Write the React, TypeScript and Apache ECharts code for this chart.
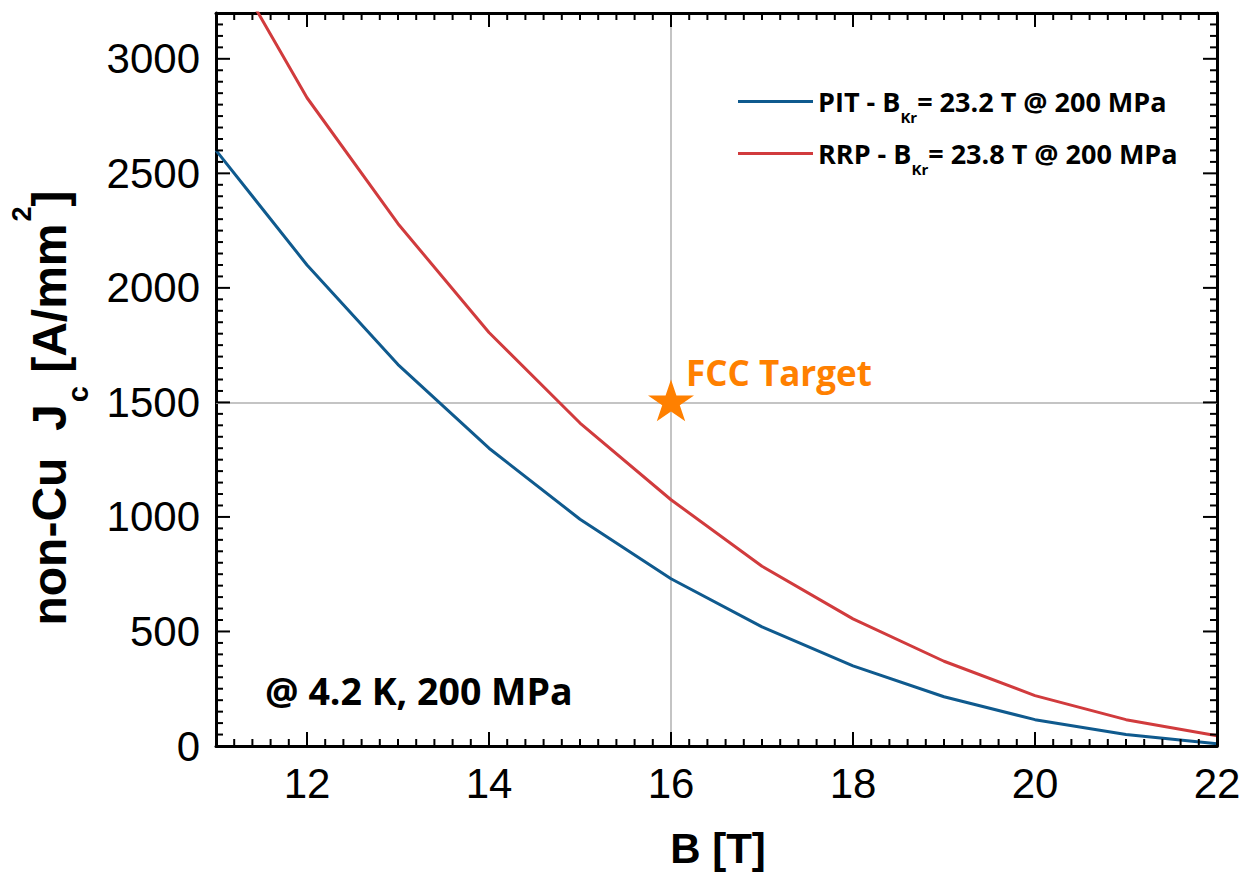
import React, { useEffect, useRef } from "react";
import * as echarts from "echarts";

// Magnetic field B [T]
const fieldB = [11, 12, 13, 14, 15, 16, 17, 18, 19, 20, 21, 22];
// non-Cu critical current density [A/mm²]
const jcPIT = [2600, 2100, 1665, 1300, 990, 730, 520, 350, 215, 115, 50, 10];
const jcRRP = [3520, 2830, 2280, 1805, 1410, 1075, 785, 555, 370, 220, 115, 45];

const seriesNames = ["PIT", "RRP"];
const bKr = ["23.2", "23.8"];
const seriesColors = ["#0f5a8e", "#d13b3d"];

const targetB = 16;
const targetJc = 1500;

const xTickLabels = [12, 14, 16, 18, 20, 22];
const yTickLabels = [0, 500, 1000, 1500, 2000, 2500, 3000];
const X_MINOR_STEP = 0.2;
const Y_MINOR_STEP = 50;

const X_MIN = 11;
const X_MAX = 22;
const Y_MIN = 0;
const Y_MAX = 3200;

const STAR =
  "path://M50 0L61.23 34.55L97.55 34.55L68.17 55.9L79.39 90.45L50 69.1L20.61 90.45L31.83 55.9L2.45 34.55L38.77 34.55Z";

const ARIAL = "'Liberation Sans', Arial, sans-serif";
const SANS = "'Open Sans', 'Noto Sans', sans-serif";

const isTick = (list: number[], v: number) => list.some((t) => Math.abs(t - v) < 1e-6);

function stepsBetween(min: number, max: number, step: number) {
  const out: number[] = [];
  const n = Math.round((max - min) / step);
  for (let k = 0; k <= n; k++) out.push(+(min + k * step).toFixed(6));
  return out;
}

function axisDef(isX: boolean, position: string, withLabels: boolean) {
  const ticks = isX ? xTickLabels : yTickLabels;
  return {
    type: "value",
    position,
    min: isX ? X_MIN : Y_MIN,
    max: isX ? X_MAX : Y_MAX,
    interval: isX ? X_MINOR_STEP : Y_MINOR_STEP,
    axisLine: { show: true, onZero: false, lineStyle: { color: "#000", width: 3 } },
    axisTick: { show: false },
    axisLabel: withLabels
      ? {
          show: true,
          margin: 16,
          color: "#000",
          fontFamily: ARIAL,
          fontSize: 42,
          formatter: (v: number) => (isTick(ticks, v) ? String(Math.round(v)) : ""),
        }
      : { show: false },
    splitLine: { show: false },
  };
}

export default function App() {
  const ref = useRef<HTMLDivElement>(null);

  useEffect(() => {
    if (!ref.current) return;
    const chart = echarts.init(ref.current, null, { renderer: "svg" });

    const lineSeries = [jcPIT, jcRRP].map((vals, i) => ({
      name: seriesNames[i],
      type: "line",
      xAxisIndex: 0,
      yAxisIndex: 0,
      data: fieldB.map((b, k) => [b, vals[k]]),
      symbol: "none",
      clip: true,
      z: 3,
      lineStyle: { color: seriesColors[i], width: 3 },
      itemStyle: { color: seriesColors[i] },
    }));

    const textGraphics: any[] = [
      {
        type: "text",
        left: 265,
        top: 671,
        style: {
          text: "@ 4.2 K, 200 MPa",
          fill: "#000",
          font: `bold 37.5px ${SANS}`,
        },
      },
      {
        // x-axis title
        type: "text",
        x: 718,
        y: 848,
        style: {
          text: "B [T]",
          fill: "#000",
          font: `bold 42px ${ARIAL}`,
          align: "center",
          verticalAlign: "middle",
        },
      },
      {
        // y-axis title, reading bottom to top
        type: "text",
        x: 49,
        y: 408,
        rotation: Math.PI / 2,
        style: {
          text: "{m|non-Cu  J}{sub|c}{m| [A/mm}{sup|2}{m|]}",
          fill: "#000",
          font: `bold 48px ${ARIAL}`,
          align: "center",
          verticalAlign: "middle",
          rich: {
            m: { fontFamily: ARIAL, fontWeight: "bold", fontSize: 48, lineHeight: 52, fill: "#000" },
            sub: {
              fontFamily: ARIAL,
              fontWeight: "bold",
              fontSize: 29,
              lineHeight: 52,
              padding: [58, 0, 0, 2],
              fill: "#000",
            },
            sup: {
              fontFamily: ARIAL,
              fontWeight: "bold",
              fontSize: 27,
              lineHeight: 52,
              padding: [0, 0, 54, 2],
              fill: "#000",
            },
          },
        },
      },
    ];

    const option = {
      animation: false,
      backgroundColor: "#fff",
      grid: { left: 216, right: 32, top: 13, bottom: 134, outerBoundsMode: "none" },
      xAxis: [axisDef(true, "bottom", true), axisDef(true, "top", false)],
      yAxis: [axisDef(false, "left", true), axisDef(false, "right", false)],
      legend: {
        show: true,
        orient: "vertical",
        left: 738,
        top: 79,
        padding: 0,
        icon: "rect",
        itemWidth: 75,
        itemHeight: 3,
        itemGap: 7,
        data: seriesNames,
        formatter: (name: string) => {
          const i = seriesNames.indexOf(name);
          return `{m|${name} - B}{sub|Kr}{m|= ${bKr[i]} T @ 200 MPa}`;
        },
        textStyle: {
          color: "#000",
          fontFamily: SANS,
          fontWeight: "bold",
          fontSize: 27,
          rich: {
            m: { fontFamily: SANS, fontWeight: "bold", fontSize: 27, lineHeight: 28, color: "#000" },
            sub: {
              fontFamily: SANS,
              fontWeight: "bold",
              fontSize: 15,
              lineHeight: 28,
              padding: [30, 0, 0, 0],
              color: "#000",
            },
          },
        },
      },
      series: [
        {
          name: "FCC Target",
          type: "scatter",
          xAxisIndex: 0,
          yAxisIndex: 0,
          data: [[targetB, targetJc]],
          symbol: STAR,
          symbolSize: [46, 44],
          symbolKeepAspect: true,
          symbolOffset: [0, -2],
          z: 4,
          itemStyle: { color: "#ff8000", opacity: 1 },
          label: {
            show: true,
            position: "right",
            distance: 0,
            offset: [-8, -28],
            formatter: "FCC Target",
            color: "#ff8000",
            fontFamily: SANS,
            fontWeight: "bold",
            fontSize: 35,
          },
          markLine: {
            silent: true,
            symbol: "none",
            z: 1,
            label: { show: false },
            lineStyle: { color: "#c4c4c4", width: 2, type: "solid" },
            data: [{ xAxis: targetB }, { yAxis: targetJc }],
          },
        },
        ...lineSeries,
      ],
      graphic: textGraphics,
    };

    chart.setOption(option as any);

    // Inward tick marks on all four sides of the frame, placed through the axis scales.
    const px = (x: number, y: number) =>
      chart.convertToPixel({ xAxisIndex: 0, yAxisIndex: 0 }, [x, y]) as number[];
    const [left, bottom] = px(X_MIN, Y_MIN);
    const [right, top] = px(X_MAX, Y_MAX);
    const tickStyle = { stroke: "#000", lineWidth: 2 };
    const tickEls: any[] = [];
    stepsBetween(X_MIN, X_MAX, X_MINOR_STEP).forEach((v) => {
      const len = isTick(xTickLabels, v) ? 14 : 7;
      const x = px(v, Y_MIN)[0];
      tickEls.push({ type: "line", silent: true, z: 50, shape: { x1: x, y1: bottom, x2: x, y2: bottom - len }, style: tickStyle });
      tickEls.push({ type: "line", silent: true, z: 50, shape: { x1: x, y1: top, x2: x, y2: top + len }, style: tickStyle });
    });
    stepsBetween(Y_MIN, 3150, Y_MINOR_STEP).forEach((v) => {
      const len = isTick(yTickLabels, v) ? 14 : 7;
      const y = px(X_MIN, v)[1];
      tickEls.push({ type: "line", silent: true, z: 50, shape: { x1: left, y1: y, x2: left + len, y2: y }, style: tickStyle });
      tickEls.push({ type: "line", silent: true, z: 50, shape: { x1: right, y1: y, x2: right - len, y2: y }, style: tickStyle });
    });
    chart.setOption({ graphic: [...textGraphics, ...tickEls] } as any);

    return () => chart.dispose();
  }, []);

  return (
    <div
      ref={ref}
      style={{ position: "fixed", left: 0, top: 0, width: 1249, height: 880, background: "#fff" }}
    />
  );
}
